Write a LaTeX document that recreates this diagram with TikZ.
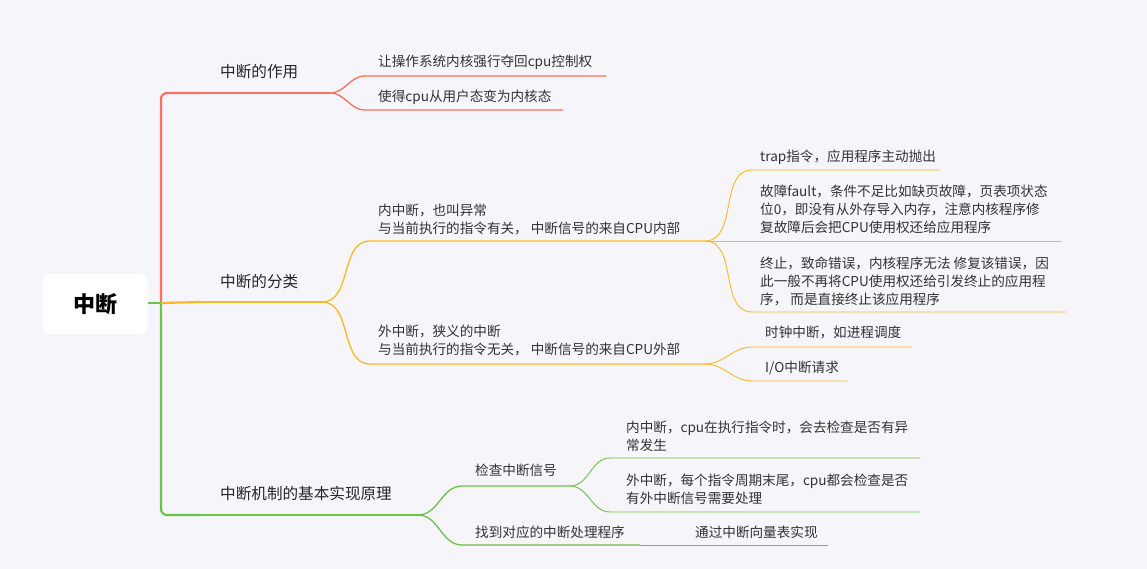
\documentclass[tikz,border=0pt]{standalone}
\usepackage{fontspec}
\setmainfont{Noto Sans CJK SC}
\begin{document}
\begin{tikzpicture}[x=1pt,y=-1pt,
  txt/.style={anchor=west,inner sep=0pt,font=\fontsize{13.6}{18}\selectfont,text=black!80,align=left},
  big/.style={anchor=west,inner sep=0pt,font=\fontsize{15.6}{18}\selectfont,text=black!85},
  red/.style={draw=cR,line width=1.3pt},
  org/.style={draw=cO,line width=1.3pt},
  grn/.style={draw=cG,line width=1.3pt}]
\definecolor{cR}{HTML}{FF6E5E}
\definecolor{cO}{HTML}{FFB81F}
\definecolor{cG}{HTML}{6CC24A}
\definecolor{bg}{HTML}{F5F5FA}
\fill[bg] (0,0) rectangle (1147,569);
\useasboundingbox (0,0) rectangle (1147,569);
% root
\node[fill=white,rounded corners=5pt,minimum width=105pt,minimum height=60pt,font=\fontsize{22}{26}\selectfont\bfseries] (root) at (95,304) {中断};
% trunk
\coordinate (r0) at (161,303);
\coordinate (a0) at (200,93);
\coordinate (b0) at (200,302);
\coordinate (c0) at (200,515);
\draw[red,line width=2.2pt,rounded corners=6pt] (r0) |- (a0);
\draw[grn,line width=2.2pt] (root.east|-r0) -- (r0);
\draw[grn,line width=2.2pt,rounded corners=6pt] (r0) |- (c0);
\draw[org,line width=2.2pt] (r0) -- (b0);
% branch 1
\node[big] (A) at (220,72) {中断的作用};
\coordinate (a1) at (330,93);
\draw[red] (a0) -- (a1);
\coordinate (a11) at (365,76); \coordinate (a11e) at (606,76);
\coordinate (a12) at (365,110); \coordinate (a12e) at (563,110);
\draw[red] (a1) to[out=0,in=180] (a11) -- (a11e);
\draw[red] (a1) to[out=0,in=180] (a12) -- (a12e);
\node[txt] (A1) at (378,62) {让操作系统内核强行夺回cpu控制权};
\node[txt] (A2) at (378,97) {使得cpu从用户态变为内核态};
% branch 2
\node[big] (B) at (220,282) {中断的分类};
\coordinate (b1) at (322,302);
\draw[org] (b0) -- (b1);
\coordinate (b11) at (370,241); \coordinate (b11e) at (705,241);
\coordinate (b12) at (370,364); \coordinate (b12e) at (705,364);
\draw[org] (b1) to[out=0,in=180] (b11) -- (b11e);
\draw[org] (b1) to[out=0,in=180] (b12) -- (b12e);
\node[txt] (B1) at (378,220) {内中断，也叫异常\\与当前执行的指令有关， 中断信号的来自CPU内部};
\node[txt] (B2) at (378,340) {外中断，狭义的中断\\与当前执行的指令无关， 中断信号的来自CPU外部};
\coordinate (t1) at (752,170); \coordinate (t1e) at (940,170);
\coordinate (t2) at (752,241); \coordinate (t2e) at (1062,241);
\coordinate (t3) at (752,312); \coordinate (t3e) at (1066,312);
\draw[org,line width=0.9pt] (b11e) to[out=0,in=180] (t1) -- (t1e);
\draw[org,line width=0.9pt] (b11e) -- (t2e);
\draw[org,line width=0.9pt] (b11e) to[out=0,in=180] (t3) -- (t3e);
\node[txt] (T1) at (760,157) {trap指令，应用程序主动抛出};
\node[txt] (T2) at (760,209) {故障fault，条件不足比如缺页故障，页表项状态\\位0，即没有从外存导入内存，注意内核程序修\\复故障后会把CPU使用权还给应用程序};
\node[txt] (T3) at (760,281) {终止，致命错误，内核程序无法 修复该错误，因\\此一般不再将CPU使用权还给引发终止的应用程\\序， 而是直接终止该应用程序};
\coordinate (u1) at (752,347); \coordinate (u1e) at (912,347);
\coordinate (u2) at (752,381); \coordinate (u2e) at (847,381);
\draw[org,line width=0.9pt] (b12e) to[out=0,in=180] (u1) -- (u1e);
\draw[org,line width=0.9pt] (b12e) to[out=0,in=180] (u2) -- (u2e);
\node[txt] (U1) at (765,332) {时钟中断，如进程调度};
\node[txt] (U2) at (765,368) {I/O中断请求};
% branch 3
\node[big] (C) at (220,494) {中断机制的基本实现原理};
\coordinate (c1) at (418,515);
\draw[grn] (c0) -- (c1);
\coordinate (c11) at (462,486); \coordinate (c11e) at (570,486);
\coordinate (c12) at (462,545); \coordinate (c12e) at (640,545);
\draw[grn] (c1) to[out=0,in=180] (c11) -- (c11e);
\draw[grn] (c1) to[out=0,in=180] (c12) -- (c12e);
\node[txt] (C1) at (475,470) {检查中断信号};
\node[txt] (C2) at (475,532) {找到对应的中断处理程序};
\coordinate (v1) at (610,458); \coordinate (v1e) at (920,458);
\coordinate (v2) at (610,512); \coordinate (v2e) at (920,512);
\draw[grn,line width=0.9pt] (c11e) to[out=0,in=180] (v1) -- (v1e);
\draw[grn,line width=0.9pt] (c11e) to[out=0,in=180] (v2) -- (v2e);
\node[txt] (V1) at (626,436) {内中断，cpu在执行指令时，会去检查是否有异\\常发生};
\node[txt] (V2) at (626,489) {外中断，每个指令周期末尾，cpu都会检查是否\\有外中断信号需要处理};
\coordinate (w1e) at (828,545);
\draw[grn,line width=0.9pt] (c12e) -- (w1e);
\node[txt] (W1) at (695,532) {通过中断向量表实现};
\end{tikzpicture}
\end{document}
